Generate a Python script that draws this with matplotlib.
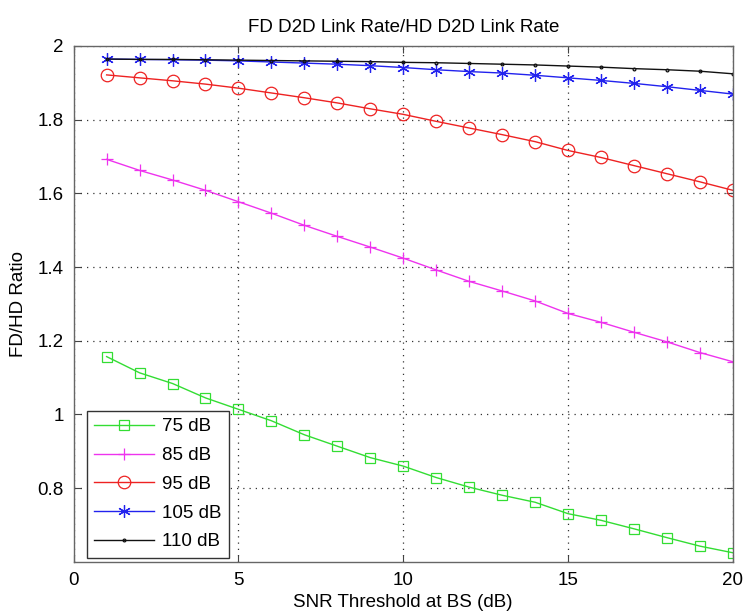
import matplotlib
matplotlib.use("Agg")
import matplotlib.pyplot as plt
import numpy as np

plt.rcParams['font.family'] = ['Liberation Sans', 'DejaVu Sans']

snr = list(range(1, 21))

r75 = [1.157, 1.113, 1.084, 1.045, 1.014, 0.983, 0.945, 0.914, 0.883, 0.860,
       0.829, 0.803, 0.781, 0.762, 0.731, 0.713, 0.690, 0.666, 0.643, 0.625]
r85 = [1.692, 1.662, 1.636, 1.608, 1.577, 1.546, 1.513, 1.483, 1.454, 1.424,
       1.392, 1.361, 1.335, 1.308, 1.274, 1.250, 1.223, 1.197, 1.168, 1.143]
r95 = [1.921, 1.913, 1.905, 1.896, 1.885, 1.872, 1.859, 1.845, 1.829, 1.814,
       1.795, 1.777, 1.759, 1.740, 1.716, 1.697, 1.675, 1.653, 1.631, 1.608]
r105 = [1.964, 1.963, 1.962, 1.961, 1.959, 1.956, 1.953, 1.950, 1.946, 1.941,
        1.935, 1.930, 1.926, 1.920, 1.913, 1.906, 1.898, 1.889, 1.879, 1.869]
r110 = [1.964, 1.963, 1.963, 1.962, 1.961, 1.960, 1.959, 1.958, 1.957, 1.955,
        1.954, 1.952, 1.950, 1.948, 1.945, 1.942, 1.938, 1.935, 1.931, 1.924]

labels = ['75 dB', '85 dB', '95 dB', '105 dB', '110 dB']
series = [r75, r85, r95, r105, r110]
colors = ['#33dd33', '#ee33ee', '#ee2222', '#2222ee', '#111111']
# matlab style asterisk for the 105 dB curve
markers = ['s', '+', 'o', (6, 2, 0), '.']
msizes = [7.5, 9, 9, 9, 4]

fs = 13.5

fig = plt.figure(figsize=(7.44, 6.16), dpi=100)
ax = fig.add_axes([0.099, 0.0877, 0.886, 0.838])

for y, lab, c, m, ms in zip(series, labels, colors, markers, msizes):
    ax.plot(snr, y, color=c, marker=m, markersize=ms, markerfacecolor='none',
            markeredgecolor=c, markeredgewidth=0.9, linewidth=1.0, label=lab)

ax.set_xlim(0, 20)
ax.set_ylim(0.6, 2.0)
ax.set_xticks([0, 5, 10, 15, 20])
ax.set_yticks([0.8, 1.0, 1.2, 1.4, 1.6, 1.8, 2.0])
ax.set_yticklabels(['0.8', '1', '1.2', '1.4', '1.6', '1.8', '2'])
ax.grid(True, linestyle=(0, (1, 4)), color='#333333', linewidth=0.9)
ax.tick_params(direction='in', top=True, right=True, length=5, labelsize=fs,
               color='#444444', pad=7)
for s in ax.spines.values():
    s.set_color('#666666')
    s.set_linewidth(1.0)

ax.set_title('FD D2D Link Rate/HD D2D Link Rate', fontsize=fs, pad=10)
ax.set_xlabel('SNR Threshold at BS (dB)', fontsize=fs, labelpad=4)
ax.set_ylabel('FD/HD Ratio', fontsize=fs, labelpad=8)

leg = ax.legend(loc='lower left', bbox_to_anchor=(0.02, 0.008), borderaxespad=0,
                fontsize=fs, fancybox=False, framealpha=1, edgecolor='#333333',
                handlelength=3.2, labelspacing=0.62, borderpad=0.4,
                handletextpad=0.4)
leg.get_frame().set_linewidth(1.0)

fig.savefig('out.png', dpi=100)
